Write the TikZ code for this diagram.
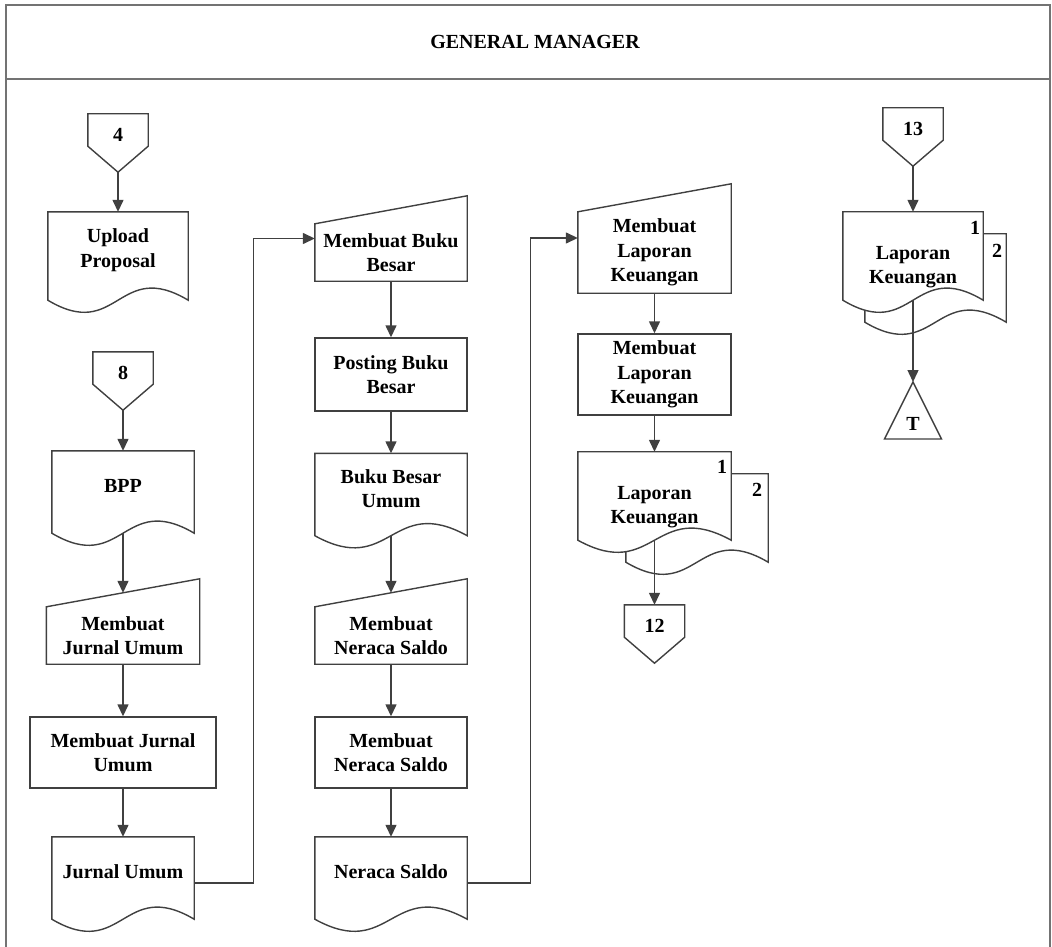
\documentclass[tikz,border=0pt]{standalone}
\usepackage{fontspec}
\setmainfont{Liberation Serif}
\usetikzlibrary{arrows.meta,backgrounds}

\definecolor{lncol}{gray}{0.25}
\definecolor{frcol}{gray}{0.45}
\newcommand\lbl{\fontsize{20}{24.5}\selectfont\bfseries}

\tikzset{
  base/.style={font=\lbl, align=center, inner sep=0pt},
  proc/.style={base, draw=lncol, line width=1.4pt, minimum width=152pt, minimum height=71pt},
  doc/.style={base, minimum width=142pt, minimum height=70pt},
  man/.style={base, minimum width=153pt, minimum height=57pt},
  mdoc/.style={base, minimum width=153pt, minimum height=36pt},
  off/.style={base, minimum width=60pt, minimum height=42pt},
  sheet/.style={draw=lncol, line width=1.4pt, fill=white},
  arr/.style={draw=lncol, line width=1.4pt, -{Triangle[length=12pt,width=11pt]}},
  frame/.style={draw=frcol, line width=2pt}
}

% outlines round the nodes
\newcommand\docsheet[1]{%
  \draw[sheet] (#1.north west) -- (#1.north east) -- ([yshift=-12pt]#1.south east)
    .. controls ([yshift=30pt]#1.south) and ([yshift=-54pt]#1.south) .. ([yshift=-12pt]#1.south west) -- cycle;}
\newcommand\mansheet[1]{%
  \draw[sheet] (#1.south west) -- (#1.north west) -- ([yshift=28pt]#1.north east) -- (#1.south east) -- cycle;}
\newcommand\offsheet[1]{%
  \draw[sheet] (#1.north west) -- (#1.north east) -- ([yshift=10pt]#1.south east)
    -- ([yshift=-16pt]#1.south) -- ([yshift=10pt]#1.south west) -- cycle;}
\newcommand\multisheet[3]{%
  \draw[sheet] ([xshift=#2,yshift=12pt]#1.north west) -- ([xshift=#3,yshift=12pt]#1.north east)
    -- ([xshift=#3,yshift=-34pt]#1.south east)
    .. controls ([xshift={(#2+#3)/2},yshift=8pt]#1.south) and ([xshift={(#2+#3)/2},yshift=-76pt]#1.south)
    .. ([xshift=#2,yshift=-34pt]#1.south west) -- cycle;
  \draw[sheet] ([yshift=34pt]#1.north west) -- ([yshift=34pt]#1.north east) -- ([yshift=-12pt]#1.south east)
    .. controls ([yshift=30pt]#1.south) and ([yshift=-54pt]#1.south) .. ([yshift=-12pt]#1.south west) -- cycle;}
\newcommand\termsheet[1]{%
  \draw[sheet] ([yshift=42pt]#1.center) -- ([xshift=28.5pt,yshift=-15pt]#1.center)
    -- ([xshift=-28.5pt,yshift=-15pt]#1.center) -- cycle;}

\begin{document}
\begin{tikzpicture}[x=1pt,y=-1pt]
  \useasboundingbox (0,0) rectangle (1052,947);
  \draw[frame] (6,947) -- (6,5) -- (1050,5) -- (1050,947);
  \draw[frame] (6,79) -- (1050,79);
  \node[base] (gm) at (535,42) {GENERAL MANAGER};

  % column 1
  \node[off]  (c4)   at (118,135)   {4};
  \node[doc, minimum width=140pt, minimum height=76pt] (up) at (118,250) {Upload\\Proposal};
  \node[off]  (c8)   at (123,373)   {8};
  \node[doc]  (bpp)  at (123,486)   {BPP};
  \node[man]  (mju)  at (123,635.5) {Membuat\\Jurnal Umum};
  \node[proc, minimum width=186pt] (mjur) at (123,752.5) {Membuat Jurnal\\Umum};
  \node[doc]  (ju)   at (123,872)   {Jurnal Umum};

  % column 2
  \node[man, minimum width=152pt] (mbb) at (391,252.5) {Membuat Buku\\Besar};
  \node[proc, minimum height=73pt] (pbb) at (391,374.5) {Posting Buku\\Besar};
  \node[doc, minimum width=152pt] (bbu) at (391,488.5) {Buku Besar\\Umum};
  \node[man, minimum width=152pt] (mns) at (391,635.5) {Membuat\\Neraca Saldo};
  \node[proc] (mnsr) at (391,752.5) {Membuat\\Neraca Saldo};
  \node[doc, minimum width=152pt] (ns) at (391,872) {Neraca Saldo};

  % column 3
  \node[man, minimum height=81pt] (mlk) at (654.5,252.5) {Membuat\\Laporan\\Keuangan};
  \node[proc, minimum width=153pt, minimum height=81pt] (mlkr) at (654.5,374.5) {Membuat\\Laporan\\Keuangan};
  \node[mdoc] (lk)   at (654.5,507) {Laporan\\Keuangan};
  \node[base] (lk-1) at ([xshift=-9pt,yshift=19pt]lk.north east) {1};
  \node[base] (lk-2) at ([xshift=26pt,yshift=-4pt]lk.north east) {2};
  \node[off]  (c12)  at (654.5,626) {12};

  % column 4
  \node[off]  (c13)  at (913,129) {13};
  \node[mdoc, minimum width=140pt] (lk2) at (913,267) {Laporan\\Keuangan};
  \node[base] (lk2-1) at ([xshift=-8pt,yshift=18pt]lk2.north east) {1};
  \node[base] (lk2-2) at ([xshift=14pt,yshift=-5pt]lk2.north east) {2};
  \node[base] (t)    at (913,424) {T};

  \begin{scope}[on background layer]
    \offsheet{c4} \offsheet{c8} \offsheet{c12} \offsheet{c13}
    \docsheet{up} \docsheet{bpp} \docsheet{ju} \docsheet{bbu} \docsheet{ns}
    \mansheet{mju} \mansheet{mbb} \mansheet{mns} \mansheet{mlk}
    \multisheet{lk}{48pt}{37pt}
    \multisheet{lk2}{22pt}{23pt}
    \termsheet{t}
  \end{scope}

  \draw[arr] ([yshift=-16pt]c4.south) -- (up.north);
  \draw[arr] ([yshift=-16pt]c8.south) -- (bpp.north);
  \draw[arr] ([yshift=-12pt]bpp.south) -- ([yshift=14pt]mju.north);
  \draw[arr] (mju) -- (mjur);
  \draw[arr] (mjur) -- (ju);
  \draw[arr] ([yshift=-11pt]ju.east) -- ++(59,0) |- ([yshift=14pt]mbb.west);
  \draw[arr] (mbb) -- (pbb);
  \draw[arr] (pbb) -- (bbu);
  \draw[arr] ([yshift=-12pt]bbu.south) -- ([yshift=14pt]mns.north);
  \draw[arr] (mns) -- (mnsr);
  \draw[arr] (mnsr) -- (ns);
  \draw[arr] ([yshift=-11pt]ns.east) -- ++(63,0) |- ([yshift=14.5pt]mlk.west);
  \draw[arr] (mlk) -- (mlkr);
  \draw[arr] (mlkr) -- ([yshift=34pt]lk.north);
  \draw[arr] ([yshift=-12pt]lk.south) -- (c12.north);
  \draw[arr] ([yshift=-16pt]c13.south) -- ([yshift=34pt]lk2.north);
  \draw[arr] ([yshift=-12pt]lk2.south) -- ([yshift=42pt]t.center);
\end{tikzpicture}
\end{document}
